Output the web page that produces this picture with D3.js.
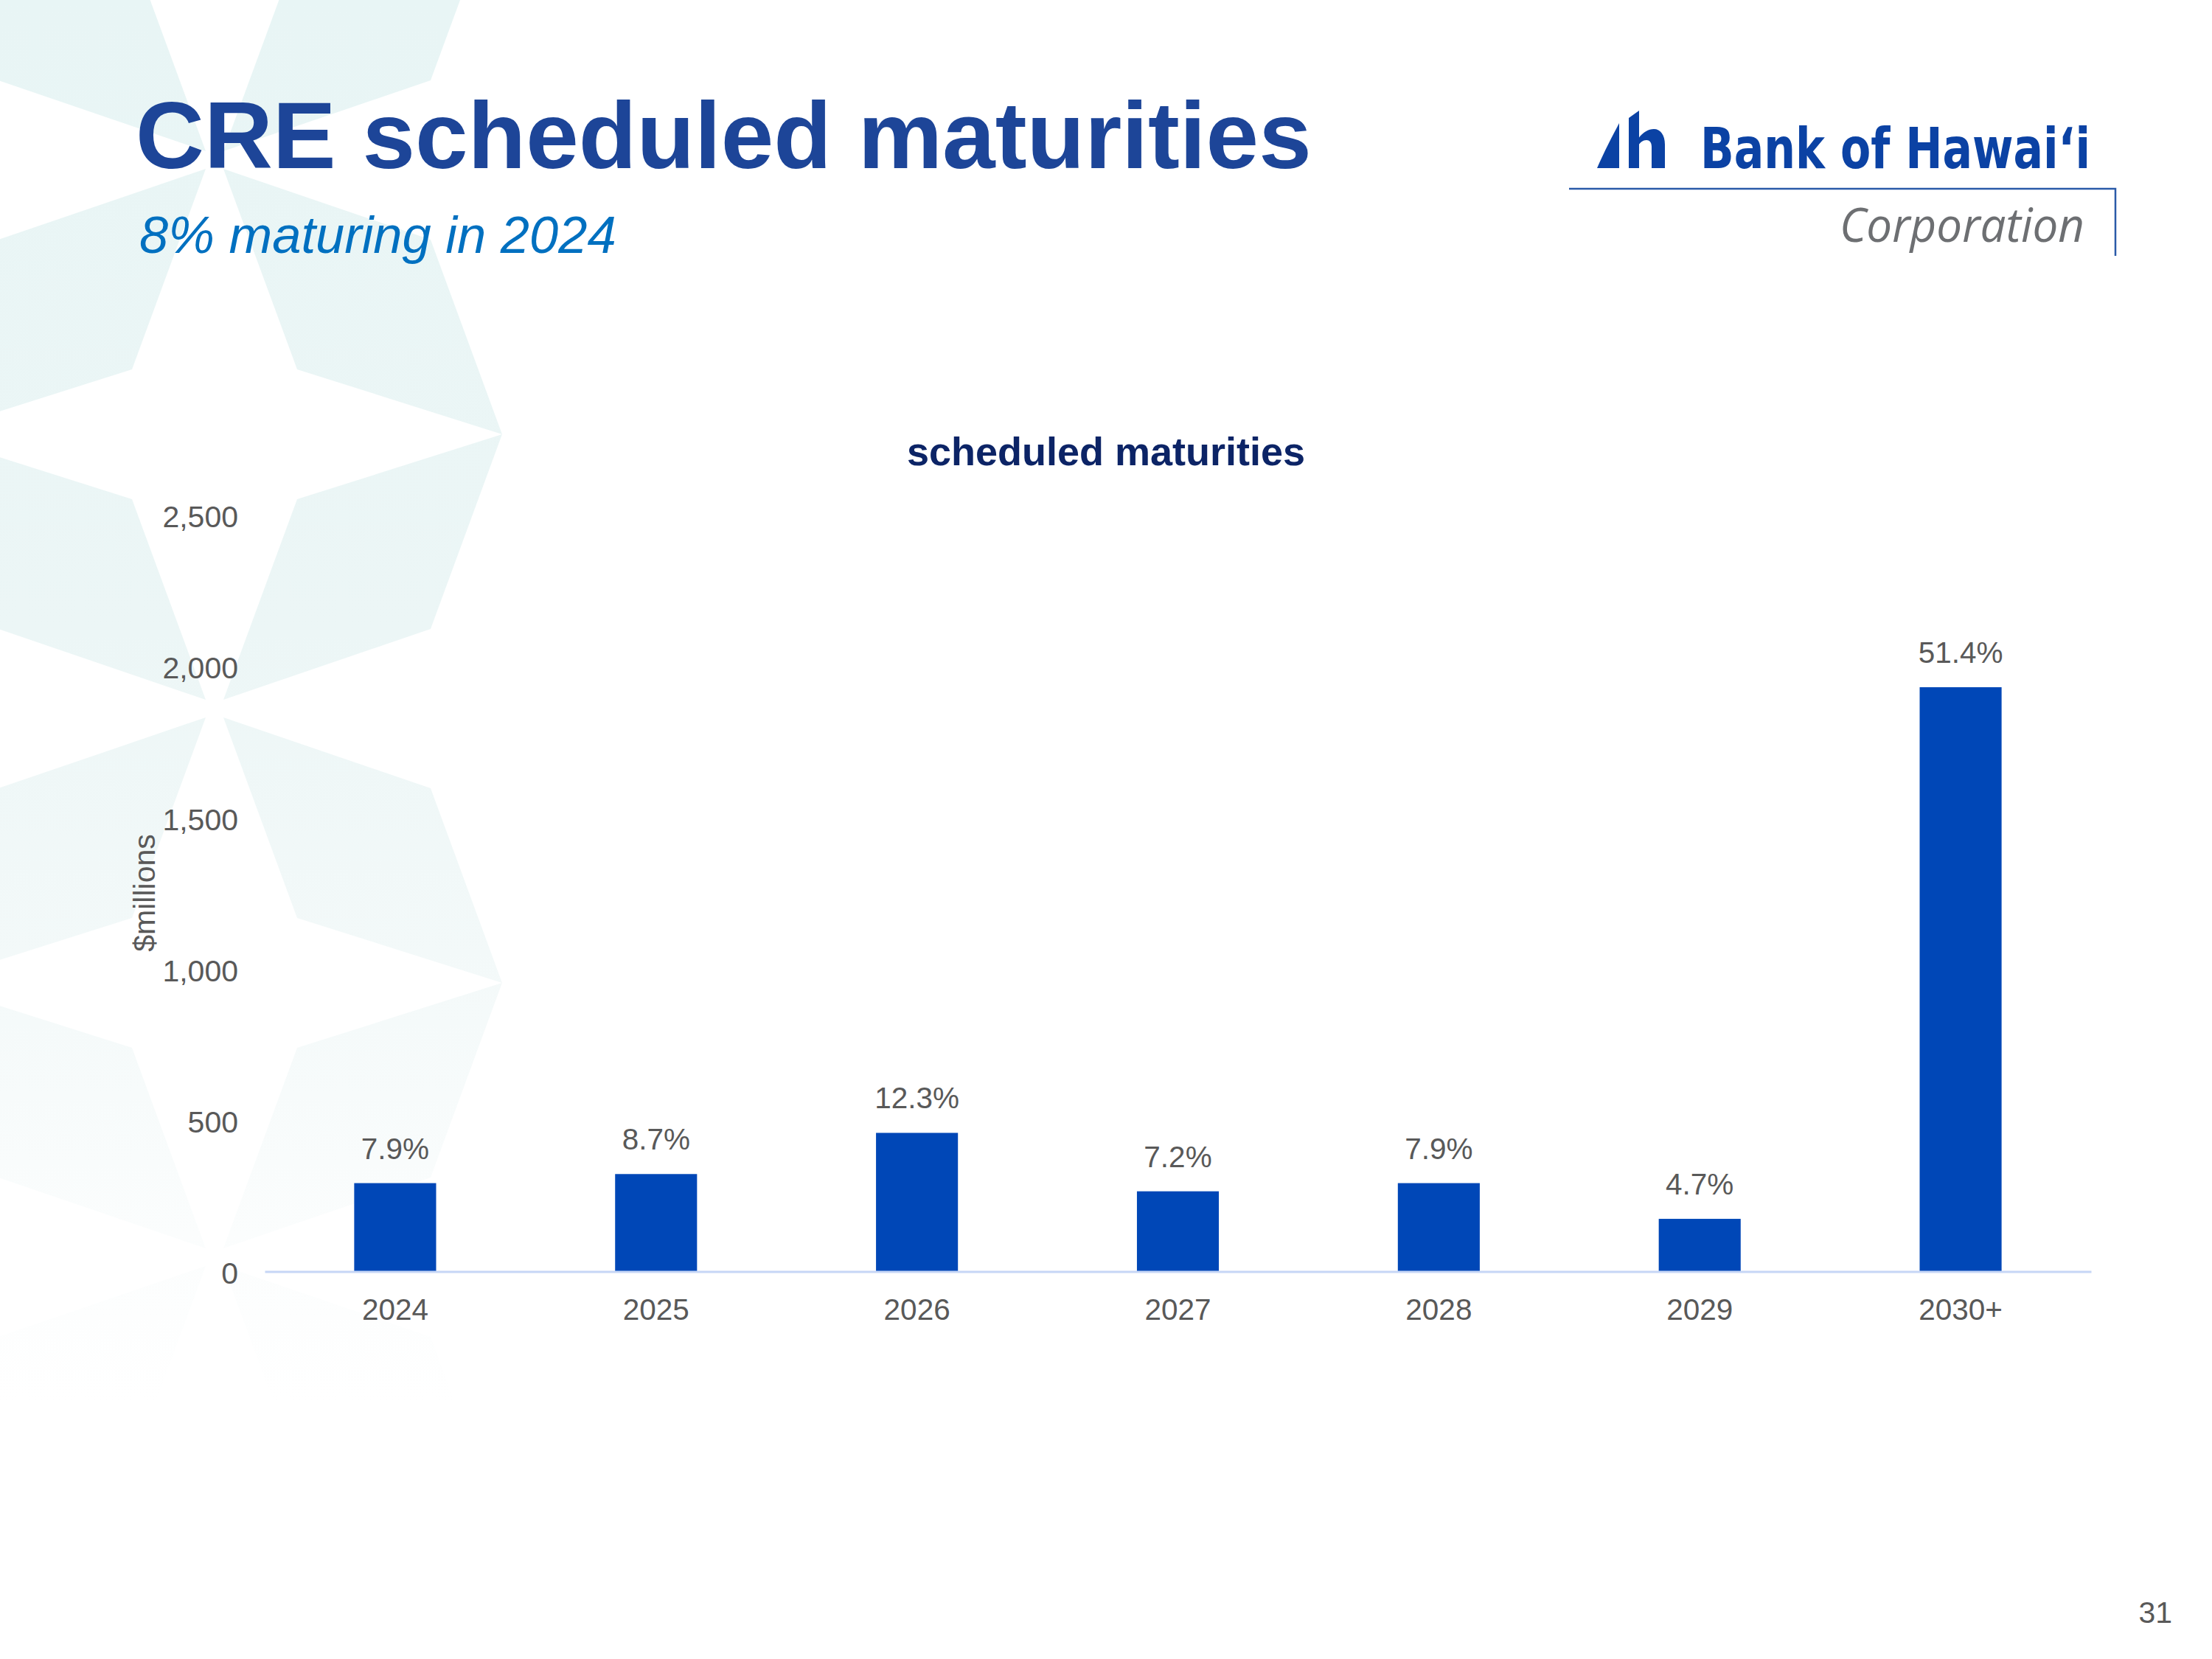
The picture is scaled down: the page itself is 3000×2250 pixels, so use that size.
<!DOCTYPE html>
<html>
<head>
<meta charset="utf-8">
<script src="https://cdn.jsdelivr.net/npm/d3@7"></script>
<style>
  html, body { margin: 0; padding: 0; background: #ffffff; }
  svg { display: block; }
</style>
</head>
<body>
<svg id="chart" width="3000" height="2250"></svg>
<script>
// ---- data ----
const categories = ["2024", "2025", "2026", "2027", "2028", "2029", "2030+"];
const maturities = [292, 322, 458, 265, 292, 174, 1930];   // $millions
const shareLabels = ["7.9%", "8.7%", "12.3%", "7.2%", "7.9%", "4.7%", "51.4%"];
const yTicks = [0, 500, 1000, 1500, 2000, 2500];

const titleText = "CRE scheduled maturities";
const subtitleText = "8% maturing in 2024";
const chartTitle = "scheduled maturities";
const yAxisTitle = "$millions";
const pageNumber = "31";

// ---- setup ----
const svg = d3.select("#chart");
const FONT = "'Liberation Sans', Arial, Helvetica, sans-serif";
const GRAY = "#595959";

// background decoration: pale 4-petal stars
const defs = svg.append("defs");
const grad = defs.append("linearGradient")
  .attr("id", "bgfade").attr("gradientUnits", "userSpaceOnUse")
  .attr("x1", 0).attr("y1", 0).attr("x2", 0).attr("y2", 1900);
grad.append("stop").attr("offset", "0").attr("stop-color", "#e8f5f5");
grad.append("stop").attr("offset", "0.45").attr("stop-color", "#ecf6f6");
grad.append("stop").attr("offset", "0.68").attr("stop-color", "#f3f9f9");
grad.append("stop").attr("offset", "0.88").attr("stop-color", "#fbfdfd");
grad.append("stop").attr("offset", "1").attr("stop-color", "#ffffff");

const starCenters = [[291, -527], [291, 217], [291, 961], [291, 1705]];
const kite = [[12, -12], [112, -284], [390, -372], [293, -108]];
const quadrants = [[1, 1], [-1, 1], [1, -1], [-1, -1]];
const bg = svg.append("g");
starCenters.forEach(([cx, cy]) => {
  quadrants.forEach(([sx, sy]) => {
    const pts = kite.map(([x, y]) => [cx + sx * x, cy + sy * y]);
    bg.append("path")
      .attr("d", d3.line()(pts) + "Z")
      .attr("fill", "url(#bgfade)");
  });
});

// ---- headings ----
svg.append("text")
  .attr("x", 184).attr("y", 228)
  .attr("font-family", FONT).attr("font-weight", "bold")
  .attr("font-size", 128.7).attr("fill", "#1d4598")
  .text(titleText);

svg.append("text")
  .attr("x", 189).attr("y", 343)
  .attr("font-family", FONT).attr("font-style", "italic")
  .attr("font-size", 70.5).attr("fill", "#0070c0")
  .text(subtitleText);

// ---- logo ----
const logo = svg.append("g");
const LOGO_BLUE = "#0b42a4";
logo.append("path")
  .attr("d", "M2166,228 C2176,205 2186,186 2196,167 L2196,228 Z")
  .attr("fill", LOGO_BLUE);
logo.append("path")
  .attr("d", "M2209,160 L2223,150 L2223,228 L2209,228 Z")
  .attr("fill", LOGO_BLUE);
logo.append("path")
  .attr("d", "M2222,188 C2228,179 2236,175 2243,175 C2252,175 2258,183 2258,196 L2258,228 L2240,228 L2240,199 C2240,193 2237,190 2233,190 C2228,190 2225,193 2222,197 Z")
  .attr("fill", LOGO_BLUE);
logo.append("text")
  .attr("x", 2306).attr("y", 228)
  .attr("font-family", "'Liberation Sans Narrow', 'DejaVu Sans Condensed', sans-serif")
  .attr("font-weight", "bold").attr("font-size", 77)
  .attr("textLength", 529).attr("lengthAdjust", "spacingAndGlyphs")
  .attr("fill", LOGO_BLUE)
  .text("Bank of Hawai\u2018i");
logo.append("path")
  .attr("d", "M2128,256 L2869,256 L2869,347")
  .attr("fill", "none").attr("stroke", "#2a5aa8").attr("stroke-width", 2.5);
logo.append("text")
  .attr("x", 2495).attr("y", 328)
  .attr("font-family", "'Open Sans', 'Noto Sans', sans-serif")
  .attr("font-style", "italic").attr("font-size", 64)
  .attr("textLength", 332).attr("lengthAdjust", "spacingAndGlyphs")
  .attr("fill", "#6d6f72")
  .text("Corporation");

// ---- chart ----
const x = d3.scaleBand()
  .domain(categories)
  .range([359, 2836])
  .paddingInner(0.686)
  .paddingOuter(0.343);

const y = d3.scaleLinear()
  .domain([0, 2500])
  .range([1724.5, 698]);

svg.append("text")
  .attr("x", 1500).attr("y", 631)
  .attr("text-anchor", "middle")
  .attr("font-family", FONT).attr("font-weight", "bold")
  .attr("font-size", 54).attr("fill", "#0c2466")
  .text(chartTitle);

// y axis (labels only)
const yAxis = svg.append("g")
  .attr("transform", "translate(359,0)")
  .call(d3.axisLeft(y).tickValues(yTicks).tickSize(0).tickPadding(36)
    .tickFormat(d3.format(",")));
yAxis.select(".domain").remove();
yAxis.selectAll("text")
  .attr("font-family", FONT).attr("font-size", 41)
  .attr("fill", GRAY).attr("dy", "0.4em");

svg.append("text")
  .attr("transform", "translate(210,1211) rotate(-90)")
  .attr("text-anchor", "middle")
  .attr("font-family", FONT).attr("font-size", 41)
  .attr("fill", GRAY)
  .text(yAxisTitle);

// bars
const data = categories.map((c, i) => ({ c, v: maturities[i], p: shareLabels[i] }));
svg.append("g").selectAll("rect")
  .data(data).join("rect")
  .attr("x", d => x(d.c))
  .attr("width", x.bandwidth())
  .attr("y", d => y(d.v))
  .attr("height", d => y(0) - y(d.v))
  .attr("fill", "#0047b7");

// x axis
const xAxis = svg.append("g")
  .attr("transform", `translate(0,${y(0)})`)
  .call(d3.axisBottom(x).tickSize(0).tickSizeOuter(0).tickPadding(37));
xAxis.select(".domain")
  .attr("stroke", "#c6d6f6").attr("stroke-width", 3);
xAxis.selectAll("text")
  .attr("font-family", FONT).attr("font-size", 40.5)
  .attr("fill", GRAY);

// data labels
svg.append("g").selectAll("text")
  .data(data).join("text")
  .attr("x", d => x(d.c) + x.bandwidth() / 2)
  .attr("y", d => y(d.v) - 33)
  .attr("text-anchor", "middle")
  .attr("font-family", FONT).attr("font-size", 40.5)
  .attr("fill", GRAY)
  .text(d => d.p);

// page number
svg.append("text")
  .attr("x", 2946).attr("y", 2201)
  .attr("text-anchor", "end")
  .attr("font-family", FONT).attr("font-size", 41)
  .attr("fill", GRAY)
  .text(pageNumber);
</script>
</body>
</html>
